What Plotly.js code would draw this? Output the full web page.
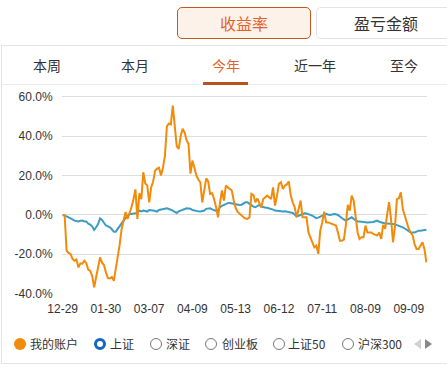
<!DOCTYPE html>
<html><head><meta charset="utf-8">
<script src="https://cdn.plot.ly/plotly-3.0.1.min.js"></script>
<style>
body{margin:0;background:#fff;width:447px;height:369px;overflow:hidden;position:relative;font-family:"Noto Sans CJK SC","Liberation Sans",sans-serif;}
#chart{position:absolute;left:0;top:0;width:447px;height:369px;}
.abs{position:absolute;}
.btn{position:absolute;box-sizing:border-box;border-radius:5px;font-size:16px;line-height:30px;text-align:center;}
.tab{position:absolute;top:56px;font-size:14px;line-height:18px;color:#333;transform:translateX(-50%);white-space:nowrap;}
.leg{position:absolute;top:336px;font-size:12px;line-height:16px;color:#333;white-space:nowrap;}
.ring{position:absolute;box-sizing:border-box;width:12px;height:12px;border-radius:50%;top:338px;}
</style></head>
<body>
<div id="chart"></div>
<div class="btn" style="left:177px;top:7px;width:134px;height:32px;border:1px solid #c2571e;background:#fdf2e9;color:#e4622a;">收益率</div>
<div class="btn" style="left:316px;top:7px;width:140px;height:32px;border:1px solid #e3e3e3;background:#fff;color:#333;">盈亏金额</div>
<div class="abs" style="left:2px;top:45px;width:445px;height:1px;background:#e3e3e3;"></div>
<div class="abs" style="left:1px;top:45px;width:1px;height:319px;background:#e3e3e3;"></div>
<div class="abs" style="left:1px;top:363px;width:446px;height:1px;background:#e3e3e3;"></div>
<div class="abs" style="left:2px;top:84px;width:445px;height:1px;background:#ececec;"></div>
<div class="tab" style="left:47px;">本周</div>
<div class="tab" style="left:135px;">本月</div>
<div class="tab" style="left:226px;color:#e4622a;">今年</div>
<div class="tab" style="left:315px;">近一年</div>
<div class="tab" style="left:404px;">至今</div>
<div class="abs" style="left:203px;top:82px;width:45px;height:3px;background:#b9521d;"></div>
<div class="ring" style="left:14px;background:#f28a0a;"></div>
<div class="leg" style="left:30px;">我的账户</div>
<div class="ring" style="left:94px;border:3px solid #1466c0;"></div>
<div class="leg" style="left:110px;">上证</div>
<div class="ring" style="left:150px;border:1px solid #777;"></div>
<div class="leg" style="left:166px;">深证</div>
<div class="ring" style="left:205px;border:1px solid #777;"></div>
<div class="leg" style="left:222px;">创业板</div>
<div class="ring" style="left:273px;border:1px solid #777;"></div>
<div class="leg" style="left:288px;">上证50</div>
<div class="ring" style="left:342px;border:1px solid #777;"></div>
<div class="leg" style="left:358px;">沪深300</div>
<div class="abs" style="left:414px;top:339px;width:0;height:0;border-top:5px solid transparent;border-bottom:5px solid transparent;border-right:7px solid #d0d0d0;"></div>
<div class="abs" style="left:425px;top:339px;width:0;height:0;border-top:5px solid transparent;border-bottom:5px solid transparent;border-left:7px solid #888;"></div>
<script>
// x tick labels (every 22 trading days)
const xTickText = ["12-29","01-30","03-07","04-09","05-13","06-12","07-11","08-09","09-09"];
const xTickStep = 22;
const yTickVals = [-40,-20,0,20,40,60];
const yTickText = ["-40.0%","-20.0%","0.0%","20.0%","40.0%","60.0%"];

// 我的账户 cumulative return (%)
const myAccount = [
 0,-0.3,-18.2,-19.3,-19.8,-22.4,-23.3,-22.6,-26.7,-24.6,
 -24.8,-23.3,-24.5,-27.8,-28.5,-31,-36.8,-31.8,-27.5,-21.6,
 -24.3,-25.5,-29.2,-32.1,-32.3,-31.6,-33.5,-27.5,-22,-15,
 -7,-2,1.5,-2,0.5,4,8,13,-2,11,
 8,21.7,16,15,6.4,14,17,22.5,23.5,24,
 20,24,30,45,46.5,46,55.6,45,35,33.6,
 40,43.8,42,38,36,21,27.6,24,20,18,
 16.6,6.4,13,18.6,17,10.7,11,8.1,4,-1.2,
 6,12.4,7.3,14.9,14,13.2,12.4,7.3,3.5,1.5,
 0.5,-0.5,-1.2,-1.8,-2,-1.2,10.7,10.2,6.4,8.4,
 5.6,3.9,8.1,9,9.8,9,8.1,14,4.7,9.8,
 15.8,16.6,13.2,14.9,15.5,17,9.8,6.4,3.9,-1.2,
 3,7.3,-1.2,-1.2,-1.2,-8.9,-11,-13.9,-16.5,-15.6,
 -19.8,-8,-3.8,1.7,-3.8,-3.8,-4.2,-4.6,-5,-5.4,
 -8.9,-13.1,-13.1,-12.6,-5.4,5.1,2.2,9.8,7.3,-0.4,
 -8.9,-12.2,-11.4,-11.4,-5.4,-8.9,-8.9,-8.9,-9.7,-10,
 -10.5,-8.9,-12.2,-5.1,-7.1,0,6.5,-2,-13.9,-6,
 8,8.5,11.5,3,-0.5,-3.5,-7,-8.9,-10.5,-15,
 -17.3,-17.3,-15.6,-13.9,-17.3,-24.1
];
// 上证 cumulative return (%)
const shIndex = [
 0,-0.2,-0.8,-1.2,-2,-2.3,-2.9,-3,-3.3,-3,
 -2.9,-3.3,-3.3,-4.5,-4.9,-5.8,-7.6,-6.3,-4.6,-1.8,
 -2.6,-4,-5.4,-5.8,-6.3,-7.3,-8.5,-8.5,-7.1,-5.2,
 -4,-2.9,-1.5,-0.9,0.5,0.5,0.8,0.8,1,2.2,
 1.8,2.2,2,1.7,2.5,2.5,2.2,2,1.7,2.5,
 2.7,3.1,3.3,3.4,3,2.7,2.2,1.5,1,1.8,
 2.2,3,3.2,3.4,3.3,3.1,2.5,2.2,2,1.8,
 1.7,2,2.2,3.1,3.3,3.4,2.8,2.5,2,2.5,
 3.9,4.6,5.2,5.6,6,6.1,5.9,5.6,5.4,5.1,
 5,5.2,5.8,6.4,6.4,5.6,4.7,4.2,3.9,4.5,
 5.1,4.3,3.9,3.8,3.6,3.4,3.1,2.7,2.2,2,
 1.8,1.7,1.7,1.8,1.7,1.5,1.2,1,0.2,-0.7,
 -0.4,0,0.3,0.8,0.7,0.5,0,-0.4,-1,-1.7,
 -1.4,-0.9,-0.2,0.3,0.5,0.2,0,0.2,0.5,0.3,
 0,-0.8,-1.7,-2.3,-2.9,-2.3,-1.5,-1.2,-2,-2.7,
 -3.4,-3.4,-3.4,-3.5,-3.7,-3.8,-3.8,-3.8,-3.6,-3.2,
 -2.9,-3.5,-3.8,-4.2,-4.3,-4.3,-4.3,-4.4,-4.6,-4.8,
 -5.1,-5.5,-6,-6.3,-6.9,-7.5,-8.2,-8.9,-8.9,-8.9,
 -8.5,-8,-8,-8,-7.7,-7.5
];

const idx = myAccount.map((_, i) => i);
const xTickVals = xTickText.map((_, i) => i * xTickStep);
const fontBase = {family: '"Liberation Sans", Arial, "Noto Sans CJK SC", sans-serif', size: 12, color: '#333'};

const traces = [
 {x: idx, y: shIndex, name: '上证', type: 'scatter', mode: 'lines',
  line: {color: '#3d9cc4', width: 2}, hoverinfo: 'skip'},
 {x: idx, y: myAccount, name: '我的账户', type: 'scatter', mode: 'lines',
  line: {color: '#f28a0a', width: 2}, hoverinfo: 'skip'}
];
const layout = {
 width: 447, height: 369,
 margin: {l: 62, r: 20, t: 90, b: 75.4},
 paper_bgcolor: 'rgba(0,0,0,0)', plot_bgcolor: 'rgba(0,0,0,0)',
 showlegend: false,
 font: fontBase,
 xaxis: {range: [-0.35, 185.3], tickvals: xTickVals, ticktext: xTickText,
  showgrid: false, zeroline: false, showline: false,
  ticks: 'outside', ticklen: 4, tickcolor: 'rgba(0,0,0,0)', tickfont: fontBase},
 yaxis: {range: [-40.2, 63.5], tickvals: yTickVals, ticktext: yTickText,
  showgrid: true, gridcolor: '#dedede', gridwidth: 1, zeroline: false, showline: false,
  ticks: 'outside', ticklen: 6, tickcolor: 'rgba(0,0,0,0)', tickfont: fontBase}
};
Plotly.newPlot('chart', traces, layout, {staticPlot: true, displayModeBar: false});
</script>
</body></html>
